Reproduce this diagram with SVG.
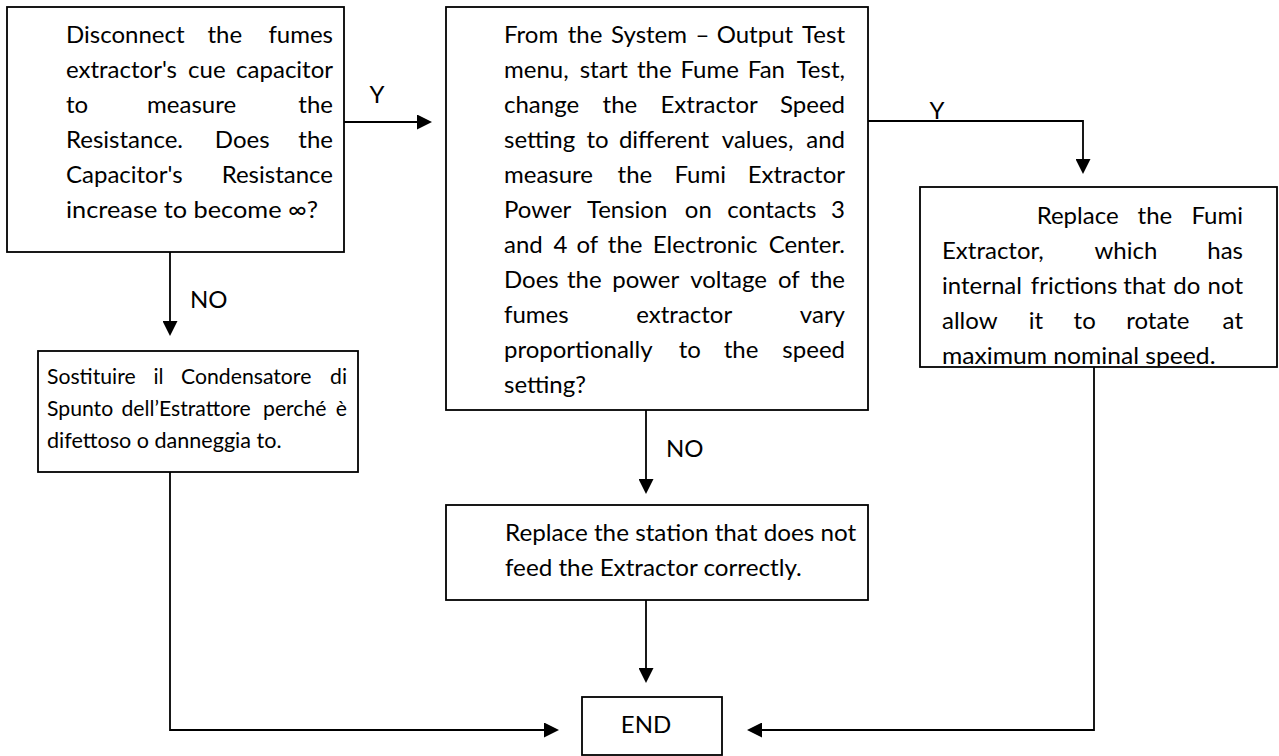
<svg xmlns="http://www.w3.org/2000/svg" width="1279" height="756" viewBox="0 0 1279 756">
<style>
.box{fill:#fff;stroke:#000;stroke-width:1.8}
.t{font-family:Lato,"Open Sans","Liberation Sans",sans-serif;font-size:24px;fill:#000}
.s{font-size:21.2px}
.c{fill:none;stroke:#000;stroke-width:1.8;marker-end:url(#ah)}
</style>
<defs>
<marker id="ah" markerUnits="userSpaceOnUse" markerWidth="15" markerHeight="15" refX="13" refY="7.5" orient="auto"><path d="M0,0 L15,7.5 L0,15 z" fill="#000"/></marker>
<clipPath id="clip3"><rect x="920" y="187" width="357" height="179"/></clipPath>
</defs>
<rect width="1279" height="756" fill="#fff"/>
<g id="connectors">
<path class="c" d="M344,122 H430"/>
<path class="c" d="M170,252 V334"/>
<path class="c" d="M868,121 H1083 V172"/>
<path class="c" d="M646,410 V492"/>
<path class="c" d="M646,600 V681"/>
<path class="c" d="M170,472 V730 H557"/>
<path class="c" d="M1094,367 V730 H749"/>
<text class="t" x="377" y="103" text-anchor="middle">Y</text>
<text class="t" x="190" y="308">NO</text>
<text class="t" x="937" y="119" text-anchor="middle">Y</text>
<text class="t" x="666" y="457">NO</text>
</g>
<g id="n1">
<rect class="box" x="7" y="7" width="337" height="245"/>
<text class="t" y="43"><tspan x="66">Disconnect</tspan><tspan x="207.5">the</tspan><tspan x="333" text-anchor="end">fumes</tspan></text>
<text class="t" y="78"><tspan x="66">extractor's</tspan><tspan x="188.1">cue</tspan><tspan x="333" text-anchor="end">capacitor</tspan></text>
<text class="t" y="113"><tspan x="66">to</tspan><tspan x="147.1">measure</tspan><tspan x="333" text-anchor="end">the</tspan></text>
<text class="t" y="148"><tspan x="66">Resistance.</tspan><tspan x="214.8">Does</tspan><tspan x="333" text-anchor="end">the</tspan></text>
<text class="t" y="183"><tspan x="66">Capacitor's</tspan><tspan x="333" text-anchor="end">Resistance</tspan></text>
<text class="t" x="66" y="218" textLength="252" lengthAdjust="spacingAndGlyphs">increase to become ∞?</text>
</g>
<g id="n2">
<rect class="box" x="446" y="7" width="422" height="403"/>
<text class="t" y="43"><tspan x="504">From</tspan><tspan x="567.7">the</tspan><tspan x="611.1">System</tspan><tspan x="695.6">–</tspan><tspan x="716.7">Output</tspan><tspan x="845" text-anchor="end">Test</tspan></text>
<text class="t" y="78"><tspan x="504">menu,</tspan><tspan x="579.7">start</tspan><tspan x="636.9">the</tspan><tspan x="680.4">Fume</tspan><tspan x="747.8">Fan</tspan><tspan x="845" text-anchor="end">Test,</tspan></text>
<text class="t" y="113"><tspan x="504">change</tspan><tspan x="602.6">the</tspan><tspan x="660.5">Extractor</tspan><tspan x="845" text-anchor="end">Speed</tspan></text>
<text class="t" y="148"><tspan x="504">setting</tspan><tspan x="586.4">to</tspan><tspan x="618.9">different</tspan><tspan x="721.8">values,</tspan><tspan x="845" text-anchor="end">and</tspan></text>
<text class="t" y="183"><tspan x="504">measure</tspan><tspan x="617.6">the</tspan><tspan x="674.4">Fumi</tspan><tspan x="845" text-anchor="end">Extractor</tspan></text>
<text class="t" y="218"><tspan x="504">Power</tspan><tspan x="586.9">Tension</tspan><tspan x="684.8">on</tspan><tspan x="727.3">contacts</tspan><tspan x="845" text-anchor="end">3</tspan></text>
<text class="t" y="253"><tspan x="504">and</tspan><tspan x="553.5">4</tspan><tspan x="576.4">of</tspan><tspan x="607.8">the</tspan><tspan x="652.8">Electronic</tspan><tspan x="845" text-anchor="end">Center.</tspan></text>
<text class="t" y="288"><tspan x="504">Does</tspan><tspan x="566.9">the</tspan><tspan x="612.2">power</tspan><tspan x="690.2">voltage</tspan><tspan x="778">of</tspan><tspan x="845" text-anchor="end">the</tspan></text>
<text class="t" y="323"><tspan x="504">fumes</tspan><tspan x="636.3">extractor</tspan><tspan x="845" text-anchor="end">vary</tspan></text>
<text class="t" y="358"><tspan x="504">proportionally</tspan><tspan x="678.7">to</tspan><tspan x="723.7">the</tspan><tspan x="845" text-anchor="end">speed</tspan></text>
<text class="t" x="504" y="393">setting?</text>
</g>
<g id="n3">
<rect class="box" x="920" y="187" width="357" height="180"/>
<g clip-path="url(#clip3)">
<text class="t" y="224"><tspan x="1036.7">Replace</tspan><tspan x="1137.6">the</tspan><tspan x="1243" text-anchor="end">Fumi</tspan></text>
<text class="t" y="259"><tspan x="942">Extractor,</tspan><tspan x="1094.5">which</tspan><tspan x="1243" text-anchor="end">has</tspan></text>
<text class="t" y="294"><tspan x="942">internal</tspan><tspan x="1030.8">frictions</tspan><tspan x="1123.3">that</tspan><tspan x="1173.2">do</tspan><tspan x="1243" text-anchor="end">not</tspan></text>
<text class="t" y="329"><tspan x="942">allow</tspan><tspan x="1028.8">it</tspan><tspan x="1073.6">to</tspan><tspan x="1126.2">rotate</tspan><tspan x="1243" text-anchor="end">at</tspan></text>
<text class="t" x="942" y="364" textLength="273.5" lengthAdjust="spacingAndGlyphs">maximum nominal speed.</text>
</g>
</g>
<g id="n4">
<rect class="box" x="38" y="351" width="320" height="121"/>
<text class="t s" y="384"><tspan x="47">Sostituire</tspan><tspan x="153.4">il</tspan><tspan x="181.1">Condensatore</tspan><tspan x="347" text-anchor="end">di</tspan></text>
<text class="t s" y="416"><tspan x="47">Spunto</tspan><tspan x="121.4">dell’Estrattore</tspan><tspan x="263">perché</tspan><tspan x="347" text-anchor="end">è</tspan></text>
<text class="t s" x="47" y="448" textLength="234.5" lengthAdjust="spacingAndGlyphs">difettoso o danneggia to.</text>
</g>
<g id="n5">
<rect class="box" x="446" y="505" width="422" height="95"/>
<text class="t" x="505" y="541" textLength="351.2" lengthAdjust="spacingAndGlyphs">Replace the station that does not</text>
<text class="t" x="505" y="576" textLength="296.8" lengthAdjust="spacingAndGlyphs">feed the Extractor correctly.</text>
</g>
<g id="end">
<rect class="box" x="582" y="697" width="140" height="58"/>
<text class="t" x="646" y="733" text-anchor="middle">END</text>
</g>
</svg>
